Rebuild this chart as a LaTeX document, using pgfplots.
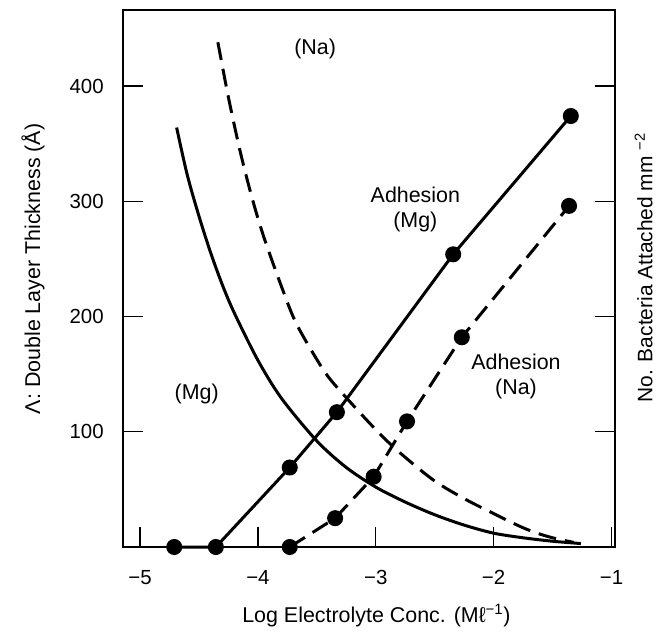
\documentclass[border=0pt]{standalone}
\usepackage{fontspec}
\setmainfont{Liberation Sans}
\usepackage{pgfplots}
\pgfplotsset{compat=1.18}
\begin{document}
\fontsize{21.5}{25}\selectfont
\begin{tikzpicture}
\begin{axis}[
  scale only axis, width=492bp, height=537bp,
  xmin=-5.145, xmax=-0.97, ymin=0, ymax=466,
  clip=false,
  axis line style={line width=1.4bp},
  tick align=inside,
  major tick length=20bp,
  tick style={line width=1.4bp, black},
  xtick={-5,-4,-3,-2,-1}, xticklabels={−5,−4,−3,−2,−1},
  xtick pos=bottom,
  ytick={100,200,300,400},
  ytick pos=both, yticklabel pos=left,
  /pgf/number format/assume math mode=true,
  ticklabel style={font=\fontsize{20.5}{24}\selectfont},
  yticklabel style={xshift=-12bp},
  xticklabel style={yshift=-16bp},
  xlabel={Log Electrolyte Conc. (Mℓ\textsuperscript{−1})},
  xlabel style={at={(axis description cs:0.515,-0.128)}, anchor=center, font=\fontsize{21.5}{25}\selectfont},
  ylabel={Λ: Double Layer Thickness (Å)},
  ylabel style={at={(axis description cs:-0.183,0.518)}, anchor=center, font=\fontsize{21.5}{25}\selectfont},
  every axis plot/.append style={line width=3bp, black},
]
% Mg double layer thickness (solid)
\addplot[smooth, no marks] coordinates {
  (-4.69,364) (-4.6,323) (-4.5,287) (-4.4,255) (-4.3,227) (-4.2,203)
  (-4.0,162) (-3.8,129) (-3.5,92) (-3.25,69) (-3.0,52) (-2.75,39)
  (-2.5,28) (-2.25,19) (-2.0,12) (-1.75,8) (-1.5,5) (-1.26,3)
};
% Na double layer thickness (dashed)
\addplot[smooth, no marks, dash pattern=on 18bp off 9bp] coordinates {
  (-4.34,438) (-4.25,390) (-4.15,343) (-4.05,303) (-3.95,269) (-3.8,226)
  (-3.67,193) (-3.44,153) (-3.28,133) (-3.02,104) (-2.82,84) (-2.51,58)
  (-2.25,42) (-2.0,29) (-1.8,19) (-1.66,13) (-1.5,8) (-1.32,4)
};
% Adhesion Mg (solid with dots)
\addplot[mark=*, mark size=6.5bp] coordinates {
  (-4.71,0) (-4.357,0) (-3.73,69) (-3.33,117) (-2.343,254) (-1.345,374)
};
% Adhesion Na (dashed with dots)
\addplot[mark=*, mark size=6.5bp, dash pattern=on 18bp off 9bp, mark options={solid}] coordinates {
  (-3.73,0) (-3.345,25) (-3.018,61) (-2.735,109) (-2.27,182) (-1.36,296)
};
\node at (axis cs:-3.515,432) {(Na)};
\node[align=center] at (axis cs:-2.664,293) {Adhesion\\(Mg)};
\node[align=center] at (axis cs:-1.81,148) {Adhesion\\(Na)};
\node at (axis cs:-4.52,133) {(Mg)};
\node[rotate=90, inner sep=1bp, font=\fontsize{21}{25}\selectfont] at (rel axis cs:1.058,0.52) {No. Bacteria Attached mm~\textsuperscript{−2}};
\end{axis}
\pgfresetboundingbox
\path[use as bounding box] (-123bp,-92bp) rectangle (538bp,547bp);
\end{tikzpicture}
\end{document}
